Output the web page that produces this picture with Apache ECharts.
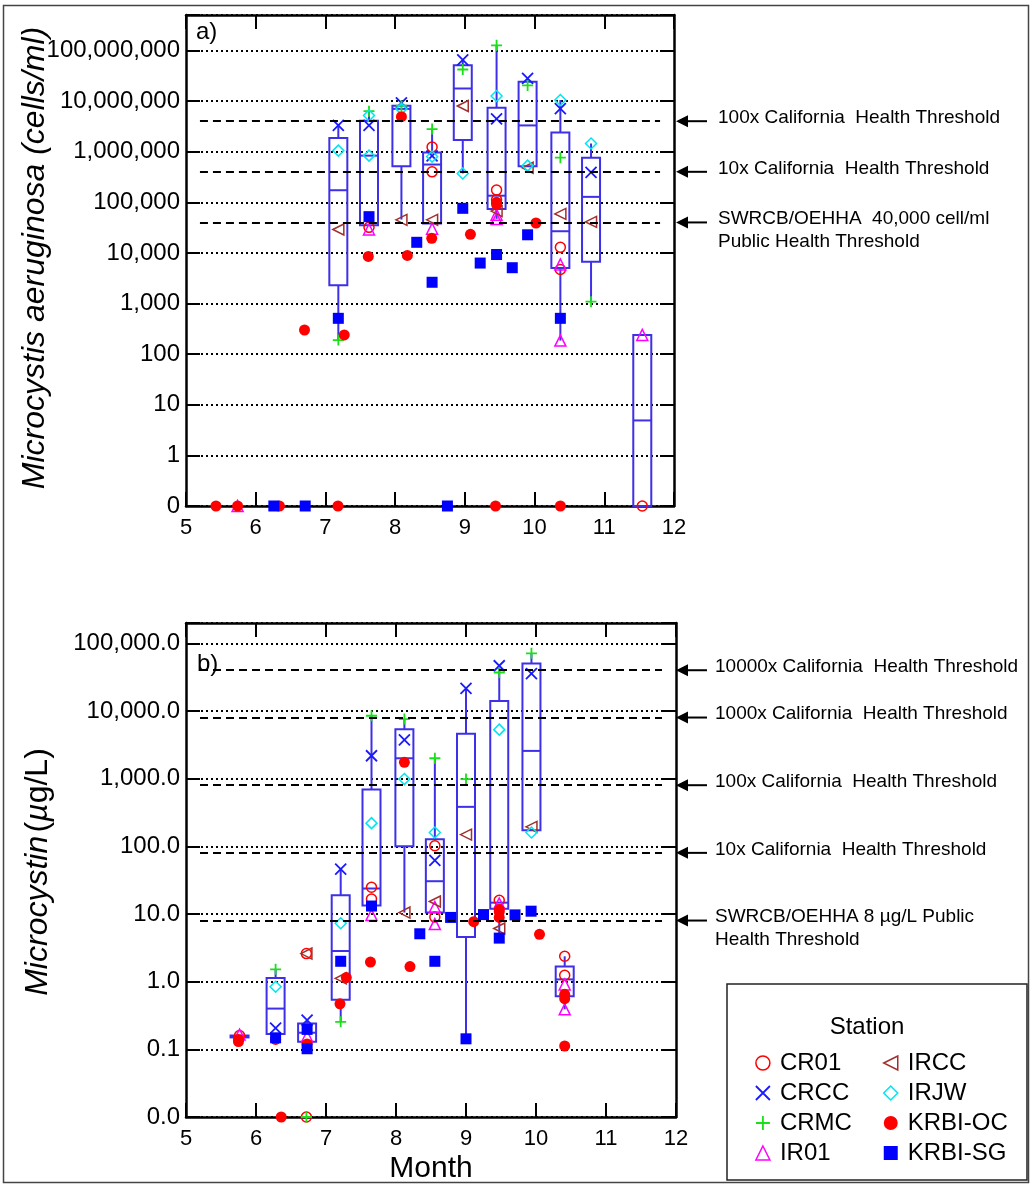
<!DOCTYPE html>
<html>
<head>
<meta charset="utf-8">
<script src="https://cdn.jsdelivr.net/npm/echarts@6/dist/echarts.min.js"></script>
<style>
  html, body { margin: 0; padding: 0; background: #fff; }
  #chart { width: 1031px; height: 1184px; }
</style>
</head>
<body>
<div id="chart"></div>
<script>
// panel a) Microcystis aeruginosa, cells/ml  -- [month, value]
const cr01A = [[7.625, 32000], [8.53, 1230000], [8.53, 400000], [9.455, 174000], [9.455, 112000], [10.37, 12900], [10.37, 4700], [11.545, 0]];
const crccA = [[7.185, 3300000], [7.625, 3300000], [8.09, 9200000], [8.53, 830000], [8.97, 65000000], [9.455, 4450000], [9.9, 28000000], [10.37, 7100000], [10.81, 390000]];
const crmcA = [[7.185, 190], [7.625, 6300000], [8.09, 8100000], [8.53, 2800000], [8.97, 42000000], [9.455, 126000000], [9.9, 20400000], [10.37, 760000], [10.81, 1090]];
const ir01A = [[5.74, 0], [7.625, 29000], [8.53, 30000], [9.455, 57000], [9.455, 47000], [10.37, 5900], [10.37, 185], [11.545, 240]];
const irccA = [[7.185, 29000], [8.09, 45000], [8.53, 45000], [8.97, 8000000], [9.455, 67000], [9.9, 480000], [10.37, 59000], [10.81, 41000]];
const irjwA = [[7.185, 1050000], [7.625, 5200000], [7.625, 835000], [8.09, 7000000], [8.53, 800000], [8.97, 372000], [9.455, 12600000], [9.9, 530000], [10.37, 10500000], [10.81, 1450000]];
const krbiocA = [[5.43, 0], [5.74, 0], [6.34, 0], [6.7, 300], [7.18, 0], [7.27, 240], [7.615, 8500], [8.09, 4900000], [8.175, 8900], [8.525, 19400], [9.08, 23300], [9.44, 0], [9.455, 100000], [9.455, 90000], [10.02, 39000], [10.37, 0]];
const krbisgA = [[6.26, 0], [6.71, 0], [7.185, 510], [7.625, 52000], [8.31, 16200], [8.53, 2630], [8.75, 0], [8.97, 76000], [9.22, 6300], [9.455, 9300], [9.68, 5100], [9.9, 22800], [10.37, 510]];
// boxes: [month, low, q1, median, q3, high]
const boxesA = [
  [7.185, 190, 2290, 173000, 1870000, 3300000],
  [7.625, 35000, 35000, 835000, 4100000, 6300000],
  [8.09, 45600, 513000, 7000000, 8100000, 9200000],
  [8.53, 38000, 38000, 557000, 960000, 2800000],
  [8.97, 372000, 1700000, 17700000, 51000000, 65000000],
  [9.455, 47000, 74000, 135000, 7400000, 126000000],
  [9.9, 513000, 513000, 3300000, 24000000, 28000000],
  [10.37, 185, 5040, 26800, 2400000, 10500000],
  [10.81, 1090, 6700, 128000, 760000, 1450000],
  [11.545, 0, 0, 4.9, 240, 240]
];
const thresholdsA = [40000, 400000, 4000000];
const thresholdLabelsA = ['SWRCB/OEHHA  40,000 cell/ml\nPublic Health Threshold', '10x California  Health Threshold', '100x California  Health Threshold'];

// panel b) Microcystin, ug/L
const cr01B = [[5.765, 0.16], [6.72, 2.6], [6.72, 0], [7.65, 24.8], [7.65, 16.6], [8.555, 102], [8.555, 9.0], [9.475, 15.9], [10.41, 2.37], [10.41, 1.24]];
const crccB = [[6.28, 0.206], [6.73, 0.27], [7.21, 46], [7.65, 2180], [8.12, 3730], [8.555, 62], [9.0, 21500], [9.475, 46600], [9.935, 35600]];
const crmcB = [[6.28, 1.52], [6.72, 0], [7.21, 0.255], [7.65, 8500], [8.12, 7600], [8.555, 2000], [9.0, 985], [9.475, 37000], [9.935, 71000]];
const ir01B = [[5.765, 0.165], [6.73, 0.155], [7.65, 9.7], [8.555, 12.7], [8.555, 7.1], [9.475, 14.3], [10.41, 0.91], [10.41, 0.39]];
const irccB = [[6.72, 2.6], [7.21, 1.12], [8.12, 10.5], [8.555, 15.3], [9.0, 149], [9.475, 6.1], [9.935, 194]];
const irjwB = [[6.28, 0.84], [7.21, 7.3], [7.65, 220], [8.12, 985], [8.555, 160], [9.475, 5300], [9.935, 160]];
const krbiocB = [[5.75, 0.14], [5.75, 0.13], [6.28, 0.14], [6.36, 0], [6.73, 0.12], [7.2, 0.47], [7.29, 1.15], [7.635, 1.95], [8.12, 1740], [8.2, 1.67], [9.11, 7.7], [9.475, 11.6], [9.475, 10.8], [9.475, 8.9], [10.05, 5.0], [10.41, 0.65], [10.41, 0.56], [10.41, 0.112]];
const krbisgB = [[6.28, 0.148], [6.73, 0.197], [6.73, 0.102], [7.21, 2.0], [7.65, 13.1], [8.34, 5.1], [8.555, 2.0], [8.78, 8.9], [9.0, 0.143], [9.25, 9.8], [9.475, 4.4], [9.7, 9.7], [9.93, 11]];
const boxesB = [
  [5.765, 0.15, 0.15, 0.155, 0.16, 0.16],
  [6.28, 0.168, 0.168, 0.40, 1.13, 1.52],
  [6.73, 0.129, 0.129, 0.176, 0.24, 0.27],
  [7.21, 0.255, 0.54, 2.84, 18.9, 46],
  [7.65, 13.3, 13.3, 23.8, 692, 8500],
  [8.12, 10.5, 100, 2000, 5350, 7600],
  [8.555, 10.5, 10.5, 30.5, 127, 2000],
  [9.0, 0.143, 4.57, 383, 4600, 21500],
  [9.475, 4.4, 12.0, 14.7, 14000, 46600],
  [9.935, 173, 173, 2570, 50500, 71000],
  [10.41, 0.39, 0.61, 1.08, 1.67, 2.37]
];
const thresholdsB = [8, 80, 800, 8000, 40000];
const thresholdLabelsB = ['SWRCB/OEHHA 8 µg/L Public\nHealth Threshold', '10x California  Health Threshold', '100x California  Health Threshold', '1000x California  Health Threshold', '10000x California  Health Threshold'];

const stations = ['CR01', 'CRCC', 'CRMC', 'IR01', 'IRCC', 'IRJW', 'KRBI-OC', 'KRBI-SG'];

const FONT = '"Liberation Sans", Arial, sans-serif';
const BOX_COLOR = '#3d30e8';

// zero is drawn one decade below the lowest labelled value
const tA = (v) => (v > 0 ? Math.log10(v) : -1);
const tB = (v) => (v > 0 ? Math.log10(v) : -2);

const symbols = {
  CR01: { symbol: 'circle', size: 10, style: { color: 'transparent', borderColor: '#ff0000', borderWidth: 1.5 } },
  CRCC: { symbol: 'path://M0,0L10,10M10,0L0,10', size: 11, style: { color: 'transparent', borderColor: '#1a1aff', borderWidth: 1.8 } },
  CRMC: { symbol: 'path://M5,0L5,10M0,5L10,5', size: 11, style: { color: 'transparent', borderColor: '#19e019', borderWidth: 1.8 } },
  IR01: { symbol: 'triangle', size: 11, style: { color: 'transparent', borderColor: '#ff00ff', borderWidth: 1.5 } },
  IRCC: { symbol: 'path://M0,5L10,0L10,10Z', size: 11, style: { color: 'transparent', borderColor: '#a0302c', borderWidth: 1.5 } },
  IRJW: { symbol: 'diamond', size: 11, style: { color: 'transparent', borderColor: '#00e5f0', borderWidth: 1.5 } },
  'KRBI-OC': { symbol: 'circle', size: 11, style: { color: '#ff0000' } },
  'KRBI-SG': { symbol: 'rect', size: 11, style: { color: '#0000ff' } }
};

const dataA = { CR01: cr01A, CRCC: crccA, CRMC: crmcA, IR01: ir01A, IRCC: irccA, IRJW: irjwA, 'KRBI-OC': krbiocA, 'KRBI-SG': krbisgA };
const dataB = { CR01: cr01B, CRCC: crccB, CRMC: crmcB, IR01: ir01B, IRCC: irccB, IRJW: irjwB, 'KRBI-OC': krbiocB, 'KRBI-SG': krbisgB };

function renderBox(params, api) {
  const x = api.value(0);
  const lo = api.coord([x, api.value(1)]);
  const q1 = api.coord([x, api.value(2)]);
  const med = api.coord([x, api.value(3)]);
  const q3 = api.coord([x, api.value(4)]);
  const hi = api.coord([x, api.value(5)]);
  const w = 18;
  const cx = med[0];
  const style = { stroke: BOX_COLOR, lineWidth: 2, fill: 'none' };
  return {
    type: 'group',
    children: [
      { type: 'line', shape: { x1: cx, y1: hi[1], x2: cx, y2: q3[1] }, style },
      { type: 'line', shape: { x1: cx, y1: q1[1], x2: cx, y2: lo[1] }, style },
      { type: 'rect', shape: { x: cx - w / 2, y: q3[1], width: w, height: Math.max(q1[1] - q3[1], 1) }, style },
      { type: 'line', shape: { x1: cx - w / 2, y1: med[1], x2: cx + w / 2, y2: med[1] }, style }
    ]
  };
}

function labelA(v) {
  if (Math.abs(v - Math.round(v)) > 1e-6) return '';
  if (v < -0.5) return '0';
  return Math.round(Math.pow(10, v)).toLocaleString('en-US');
}
function labelB(v) {
  if (Math.abs(v - Math.round(v)) > 1e-6) return '';
  if (v < -1.5) return '0.0';
  return Math.pow(10, Math.round(v)).toLocaleString('en-US', { minimumFractionDigits: 1, maximumFractionDigits: 1 });
}

const axisLine = { onZero: false, lineStyle: { color: '#000', width: 2.5 } };
const axisTick = { inside: true, length: 14, lineStyle: { color: '#000', width: 2 } };

function xAxes(grid) {
  const base = { type: 'value', gridIndex: grid, min: 5, max: 12, interval: 1, axisLine, axisTick, splitLine: { show: false } };
  return [
    { ...base, position: 'bottom', axisLabel: { fontSize: 22, color: '#000', fontFamily: FONT, margin: 11 } },
    { ...base, position: 'top', axisLabel: { show: false } }
  ];
}
function yAxes(grid, min, max, fmt) {
  const base = { type: 'value', gridIndex: grid, min, max, interval: 1, axisLine, axisTick };
  return [
    {
      ...base, position: 'left',
      axisLabel: { formatter: fmt, fontSize: 24, color: '#000', fontFamily: FONT, margin: 6, hideOverlap: false, showMinLabel: true },
      splitLine: { show: true, lineStyle: { color: '#000', type: [2, 3], width: 2 } }
    },
    { ...base, position: 'right', axisLabel: { show: false }, splitLine: { show: false } }
  ];
}

function panelSeries(data, boxes, thresholds, t, xi, yi) {
  const list = [{
    type: 'custom',
    xAxisIndex: xi, yAxisIndex: yi,
    renderItem: renderBox,
    encode: { x: 0, y: [1, 2, 3, 4, 5] },
    data: boxes.map((b) => [b[0], ...b.slice(1).map(t)]),
    clip: false,
    silent: true,
    z: 2
  }];
  stations.forEach((name, i) => {
    const s = symbols[name];
    const ser = {
      name, type: 'scatter',
      xAxisIndex: xi, yAxisIndex: yi,
      data: data[name].map(([x, v]) => [x, t(v)]),
      symbol: s.symbol, symbolSize: s.size,
      itemStyle: { ...s.style, opacity: 1 },
      clip: false,
      z: 3
    };
    if (i === 0) {
      ser.markLine = {
        silent: true, symbol: ['none', 'none'], label: { show: false },
        lineStyle: { type: [8, 5], color: '#000', width: 1.8 },
        data: thresholds.map((v) => [{ coord: [5.2, t(v)] }, { coord: [11.8, t(v)] }])
      };
    }
    list.push(ser);
  });
  return list;
}

function legendItems(names) {
  return names.map((n) => ({ name: n, icon: symbols[n].symbol, itemStyle: { ...symbols[n].style } }));
}

const chart = echarts.init(document.getElementById('chart'));
const legendBase = {
  orient: 'vertical', itemWidth: 14, itemHeight: 14, itemGap: 6, selectedMode: false, symbolKeepAspect: true,
  textStyle: { fontSize: 24, color: '#000', fontFamily: FONT, padding: [0, 0, 0, 5] }
};

chart.setOption({
  animation: false,
  backgroundColor: '#fff',
  grid: [
    { left: 186, top: 15, width: 488, height: 491 },
    { left: 186, top: 623, width: 490, height: 494 }
  ],
  xAxis: [...xAxes(0), ...xAxes(1)],
  yAxis: [...yAxes(0, -1, 8.7, labelA), ...yAxes(1, -2, 5.3, labelB)],
  legend: [
    { ...legendBase, left: 750, top: 1046, data: legendItems(stations.slice(0, 4)) },
    { ...legendBase, left: 878, top: 1046, data: legendItems(stations.slice(4)) }
  ],
  series: [
    ...panelSeries(dataA, boxesA, thresholdsA, tA, 0, 0),
    ...panelSeries(dataB, boxesB, thresholdsB, tB, 2, 2)
  ]
});

// arrows and threshold labels on the right, placed through the axis scales
const graphics = [
  { type: 'rect', shape: { x: 3.5, y: 5.5, width: 1025, height: 1177 }, style: { fill: 'none', stroke: '#444', lineWidth: 1.5 }, z: 0 },
  { type: 'rect', shape: { x: 727, y: 984, width: 300, height: 196 }, style: { fill: '#fff', stroke: '#222', lineWidth: 1.5 }, z: -1 },
  { type: 'text', x: 867, y: 1027, style: { text: 'Station', font: '24px ' + FONT, fill: '#000', align: 'center', verticalAlign: 'middle' } },
  { type: 'text', x: 196, y: 32, style: { text: 'a)', font: '24px ' + FONT, fill: '#000', verticalAlign: 'middle' } },
  { type: 'text', x: 197, y: 664, style: { text: 'b)', font: '24px ' + FONT, fill: '#000', verticalAlign: 'middle' } },
  {
    type: 'text', x: 35, y: 258, rotation: Math.PI / 2,
    style: { text: 'Microcystis aeruginosa (cells/ml)', font: 'italic 32px ' + FONT, fill: '#000', align: 'center', verticalAlign: 'middle' }
  },
  {
    type: 'text', x: 38, y: 872, rotation: Math.PI / 2,
    style: {
      text: '{i|Microcystin} {n|(}{i|µ}{n|g/L)}', align: 'center', verticalAlign: 'middle',
      rich: { i: { font: 'italic 32px ' + FONT, fill: '#000' }, n: { font: '32px ' + FONT, fill: '#000' } }
    }
  },
  { type: 'text', x: 431, y: 1169, style: { text: 'Month', font: '30px ' + FONT, fill: '#000', align: 'center', verticalAlign: 'middle' } }
];

function addArrows(thresholds, labels, t, yi, textX) {
  thresholds.forEach((v, i) => {
    const y = chart.convertToPixel({ yAxisIndex: yi }, t(v));
    graphics.push({ type: 'line', shape: { x1: 684, y1: y, x2: 707, y2: y }, style: { stroke: '#000', lineWidth: 2 } });
    graphics.push({ type: 'polygon', shape: { points: [[676, y], [688, y - 6], [688, y + 6]] }, style: { fill: '#000' } });
    graphics.push({
      type: 'text', x: textX, y: y - 15,
      style: { text: labels[i], font: '19px ' + FONT, fill: '#000', lineHeight: 23, verticalAlign: 'top' }
    });
  });
}
addArrows(thresholdsA, thresholdLabelsA, tA, 0, 718);
addArrows(thresholdsB, thresholdLabelsB, tB, 2, 715);

chart.setOption({ graphic: graphics });
</script>
</body>
</html>
